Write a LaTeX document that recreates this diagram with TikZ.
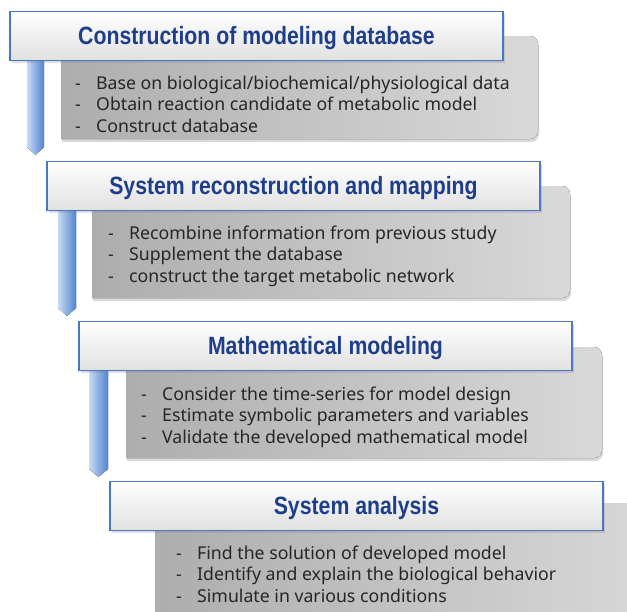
\documentclass[tikz,border=0pt]{standalone}
\usepackage{fontspec}
\setmainfont{Noto Sans}
\newfontfamily\headfont[FakeStretch=0.85]{Liberation Sans}
\usetikzlibrary{shadows}
\definecolor{headblue}{RGB}{30,62,138}
\definecolor{frameblue}{RGB}{72,118,200}
\definecolor{barlight}{RGB}{200,218,243}
\definecolor{bardark}{RGB}{80,132,208}
\newcommand{\itm}[1]{\makebox[21pt][l]{-}#1}
\tikzset{head/.style={draw=frameblue,line width=1.4pt,top color=white,bottom color=black!12,
                minimum width=493pt,minimum height=49pt,inner sep=0pt,text=headblue,
                text height=17pt,text depth=0pt,
                font=\headfont\bfseries\fontsize{25}{28}\selectfont,
                drop shadow={shadow xshift=2pt,shadow yshift=-2pt,opacity=0.25}},
         panel/.style={left color=black!32,right color=black!15,
                drop shadow={shadow xshift=1pt,shadow yshift=-3pt,opacity=0.3}},
         items/.style={anchor=west,align=left,inner sep=0pt,text=black!85,
                font=\fontsize{17.7}{21.5}\selectfont},
         bar/.style={left color=barlight,right color=bardark}}

\begin{document}
\begin{tikzpicture}[x=1pt,y=-1pt]
                  \clip (0,0) rectangle (627,611);
                  % arrows on the left
                  \fill[bar] (27,61) -- (44,61) -- (44,147) -- (35.5,155) -- (27,147) -- cycle;
                  \fill[bar] (58,211) -- (76,211) -- (76,308) -- (67,316) -- (58,308) -- cycle;
                  \fill[bar] (89,370) -- (108,370) -- (108,469) -- (98.5,477) -- (89,469) -- cycle;
                  % grey panels
                  \fill[panel] (61,139) -- (61,36) [rounded corners=8pt] -- (538,36) -- (538,139) [sharp corners] -- cycle;
                  \fill[panel] (92,298) -- (92,186) [rounded corners=8pt] -- (570,186) -- (570,298) [sharp corners] -- cycle;
                  \fill[panel] (126,458) -- (126,347) [rounded corners=8pt] -- (602,347) -- (602,458) [sharp corners] -- cycle;
                  \fill[panel] (155,640) -- (155,503) [rounded corners=8pt] -- (660,503) -- (660,640) [sharp corners] -- cycle;
                  % titles
                  \node[head] (build) at (256.5,36) {Construction of modeling database};
                  \node[head] (recon) at (293.5,186) {System reconstruction and mapping};
                  \node[head] (math) at (325.5,346) {Mathematical modeling};
                  \node[head] (anal) at (356.5,506) {System analysis};
                  % contents
                  \node[items] (buildtxt) at (75,104) {\itm{Base on biological/biochemical/physiological data}\\
                      \itm{Obtain reaction candidate of metabolic model}\\ \itm{Construct database}};
                  \node[items] (recontxt) at (108,256) {\itm{Recombine information from previous study}\\
                      \itm{Supplement the database}\\ \itm{construct the target metabolic network}};
                  \node[items] (mathtxt) at (141,417) {\itm{Consider the time-series for model design}\\
                      \itm{Estimate symbolic parameters and variables}\\ \itm{Validate the developed mathematical model}};
                  \node[items] (analtxt) at (176,574) {\itm{Find the solution of developed model}\\
                      \itm{Identify and explain the biological behavior}\\ \itm{Simulate in various conditions}};
              \end{tikzpicture}
\end{document}
